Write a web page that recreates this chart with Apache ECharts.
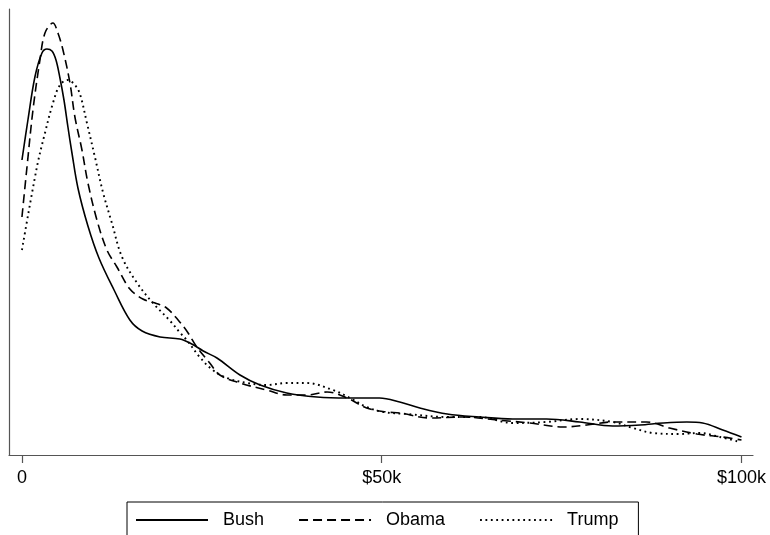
<!DOCTYPE html>
<html><head><meta charset="utf-8">
<script src="https://cdn.jsdelivr.net/npm/echarts@6/dist/echarts.min.js"></script>
<style>html,body{margin:0;padding:0;background:#fff}#c{width:770px;height:535px}</style>
</head><body><div id="c"></div>
<script>
// x in $k, y = estimated kernel density
const bush = [[0,0.0295],[0.83,0.0335],[1.8,0.0378],[2.78,0.0402],[3.47,0.0406],[4.17,0.0404],[4.73,0.0395],[5.28,0.0377],[5.84,0.0355],[6.39,0.0328],[6.95,0.0302],[7.78,0.0267],[9.17,0.0229],[10.7,0.0197],[12.8,0.0165],[15.0,0.0135],[16.7,0.0124],[19.2,0.0118],[21.95,0.0116],[23.6,0.0111],[25.2,0.0104],[27.1,0.0097],[30.3,0.0080],[33.1,0.0070],[36.8,0.0062],[41.0,0.0058],[45.2,0.0057],[49.7,0.0057],[52.5,0.0053],[55.3,0.0047],[59.1,0.0041],[63.6,0.0038],[68.2,0.0036],[72.9,0.0036],[77.5,0.0033],[82.1,0.0029],[85.9,0.0030],[89.1,0.0032],[92.4,0.0033],[94.6,0.0032],[97.4,0.0025],[100,0.0018]];
const obama = [[0,0.0238],[0.7,0.0288],[1.53,0.0345],[2.5,0.0395],[3.2,0.0422],[4.31,0.0432],[5.0,0.0422],[5.70,0.0405],[6.67,0.0372],[7.36,0.0338],[8.34,0.0305],[9.17,0.0272],[10.42,0.0235],[11.81,0.0205],[13.2,0.0188],[15.0,0.0166],[16.8,0.0156],[18.5,0.0152],[20.1,0.0147],[21.7,0.0135],[23.0,0.0123],[24.3,0.0108],[26.1,0.0092],[27.5,0.0080],[30.3,0.0072],[34.0,0.0065],[36.8,0.0060],[39.6,0.0060],[42.4,0.0063],[45.2,0.0057],[47.9,0.0047],[50.7,0.0043],[52.5,0.0042],[56.7,0.0037],[61.3,0.0038],[66.0,0.0035],[70.6,0.0032],[75.2,0.0028],[78.5,0.0030],[82.1,0.0033],[86.8,0.0033],[90.0,0.0027],[93.8,0.0021],[97.4,0.0018],[100,0.0015]];
const trump = [[0,0.0205],[2.08,0.0288],[3.2,0.0322],[4.31,0.0352],[5.28,0.0370],[6.39,0.0375],[7.36,0.0370],[8.06,0.0361],[9.03,0.0332],[10.14,0.0298],[11.25,0.0263],[12.5,0.0232],[13.9,0.0198],[16.0,0.0172],[18.2,0.0152],[20.6,0.0134],[22.0,0.0122],[22.9,0.0115],[24.7,0.0098],[26.5,0.0085],[28.5,0.0077],[31.3,0.0072],[34.0,0.0070],[36.8,0.0072],[39.6,0.0072],[43.2,0.0065],[45.6,0.0057],[47.9,0.0048],[50.2,0.0043],[53.5,0.0041],[59.1,0.0038],[63.6,0.0038],[68.2,0.0032],[72.9,0.0033],[77.5,0.0036],[82.1,0.0033],[84.9,0.0027],[87.7,0.0022],[91.4,0.0021],[94.2,0.0022],[97.0,0.0018],[99.8,0.0013]];
const xTicks = [0, 50, 100];
const xTickLabels = ['0', '$50k', '$100k'];
const seriesNames = ['Bush', 'Obama', 'Trump'];

const font = 'Liberation Sans, Arial, Helvetica, sans-serif';
const chart = echarts.init(document.getElementById('c'));
const mk = (name, data, dash, w) => ({
  name, type: 'line', data, symbol: 'none', smooth: 0.35,
  lineStyle: { color: '#000', width: w, type: dash },
  itemStyle: { color: '#000' }, animation: false
});
chart.setOption({
  animation: false,
  grid: { left: 9, top: 9, right: 17, bottom: 80 },
  xAxis: {
    type: 'value', min: -1.8, max: 101.6,
    axisLine: { show: true, onZero: false, lineStyle: { color: '#555', width: 1.2 } },
    axisTick: { show: true, length: 8, lineStyle: { color: '#555', width: 1.2 }, customValues: xTicks },
    axisLabel: { fontFamily: font, fontSize: 18, color: '#000', margin: 14,
      customValues: xTicks,
      formatter: v => xTickLabels[xTicks.indexOf(v)] },
    splitLine: { show: false }
  },
  yAxis: {
    type: 'value', min: 0, max: 0.0446,
    axisLine: { show: true, onZero: false, lineStyle: { color: '#555', width: 1.2 } },
    axisTick: { show: false }, axisLabel: { show: false }, splitLine: { show: false }
  },
  legend: {
    data: seriesNames, left: 127, top: 502, orient: 'horizontal',
    borderColor: '#000', borderWidth: 1, padding: [9, 20, 14, 8],
    itemWidth: 72, itemHeight: 14, itemGap: 34,
    itemStyle: { color: 'rgba(0,0,0,0)', borderColor: 'rgba(0,0,0,0)', borderWidth: 0, opacity: 0 },
    textStyle: { fontFamily: font, fontSize: 18, color: '#000', padding: [0, 0, 0, 10] }
  },
  series: [
    mk(seriesNames[0], bush, 'solid', 1.6),
    mk(seriesNames[1], obama, [9, 5], 1.6),
    mk(seriesNames[2], trump, [1.8, 3.6], 1.9)
  ]
});
</script></body></html>
